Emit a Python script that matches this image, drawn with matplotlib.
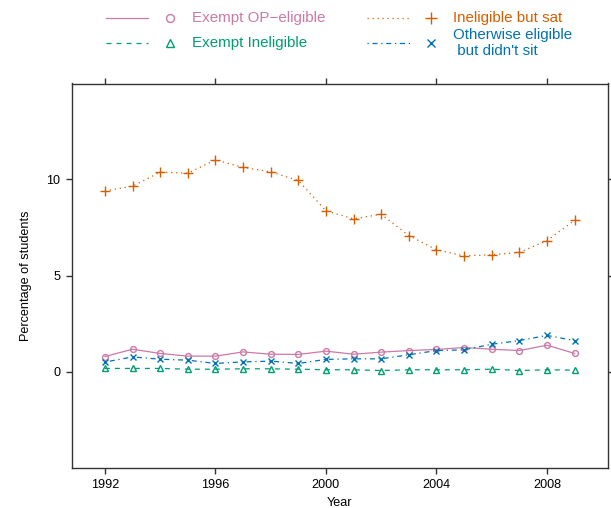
import matplotlib.pyplot as plt
from matplotlib.lines import Line2D

plt.rcParams['font.family'] = ['Liberation Sans', 'DejaVu Sans']

# Percentage of students per year, by exam status
years = list(range(1992, 2010))
exempt_op_eligible = [0.78, 1.16, 0.94, 0.80, 0.80, 1.02, 0.90, 0.89, 1.06,
                      0.90, 1.01, 1.09, 1.15, 1.25, 1.16, 1.09, 1.37, 0.94]
exempt_ineligible = [0.16, 0.16, 0.16, 0.12, 0.12, 0.14, 0.14, 0.12, 0.09,
                     0.09, 0.05, 0.09, 0.09, 0.09, 0.12, 0.05, 0.09, 0.07]
ineligible_sat = [9.41, 9.65, 10.38, 10.33, 11.02, 10.63, 10.40, 9.95, 8.37,
                  7.95, 8.19, 7.08, 6.34, 6.02, 6.08, 6.20, 6.82, 7.88]
eligible_not_sat = [0.49, 0.76, 0.64, 0.59, 0.42, 0.50, 0.54, 0.42, 0.63,
                    0.66, 0.66, 0.87, 1.09, 1.13, 1.42, 1.61, 1.88, 1.61]

series = [
    ("Exempt OP\u2212eligible", exempt_op_eligible, "#CC79A7", "-", "o", 4.2),
    ("Exempt Ineligible", exempt_ineligible, "#009E73", (0, (4, 4)), "^", 4.8),
    ("Ineligible but sat", ineligible_sat, "#D55E00", (0, (1, 3)), "+", 7),
    ("Otherwise eligible\n but didn't sit", eligible_not_sat, "#0072B2",
     (0, (1, 3, 4, 3)), "x", 4.5),
]

W, H = 611, 508
fig = plt.figure(figsize=(W / 100, H / 100), dpi=100)
ax = fig.add_axes([72 / W, 1 - 467.5 / H, (607.5 - 72) / W, (467.5 - 83.5) / H])

for label, vals, col, ls, mk, ms in series:
    ax.plot(years, vals, color=col, linestyle=ls, linewidth=0.9,
            marker=mk, markersize=ms, markerfacecolor='none',
            markeredgecolor=col, markeredgewidth=1.0)

ax.set_xlim(1990.81, 2010.19)
ax.set_ylim(-5, 15)
ax.set_xticks([1992, 1996, 2000, 2004, 2008])
ax.set_yticks([0, 5, 10])

for sp in ax.spines.values():
    sp.set_color('#333333')
    sp.set_linewidth(1.0)
ax.tick_params(direction='out', length=4.5, width=1.0, color='#333333',
               labelsize=9.1, pad=4, top=True, right=True,
               labeltop=False, labelright=False)
ax.tick_params(axis='x', pad=4)
ax.set_xlabel("Year", fontsize=9.1, labelpad=4)
ax.set_ylabel("Percentage of students", fontsize=9.1, labelpad=10)

# key drawn above the panel: line sample, marker, coloured text
cols = [(106, 148, 170, 192), (367, 410, 431, 453)]
rows = [18, 43]
slots = [(0, 0), (0, 1), (1, 0), (1, 1)]
for (label, vals, col, ls, mk, ms), (c, r) in zip(series, slots):
    x0, x1, xm, xt = cols[c]
    y = 1 - rows[r] / H
    fig.add_artist(Line2D([x0 / W, x1 / W], [y, y], color=col, linestyle=ls,
                          linewidth=0.9, transform=fig.transFigure))
    fig.add_artist(Line2D([xm / W], [y], color=col, marker=mk, markersize=ms + 1.5,
                          markerfacecolor='none', markeredgecolor=col,
                          markeredgewidth=1.0, linestyle='none',
                          transform=fig.transFigure))
    fig.text(xt / W, y, label, color=col, fontsize=10.9, ha='left', va='center',
             linespacing=1.1)

fig.savefig("out.png", dpi=100)
